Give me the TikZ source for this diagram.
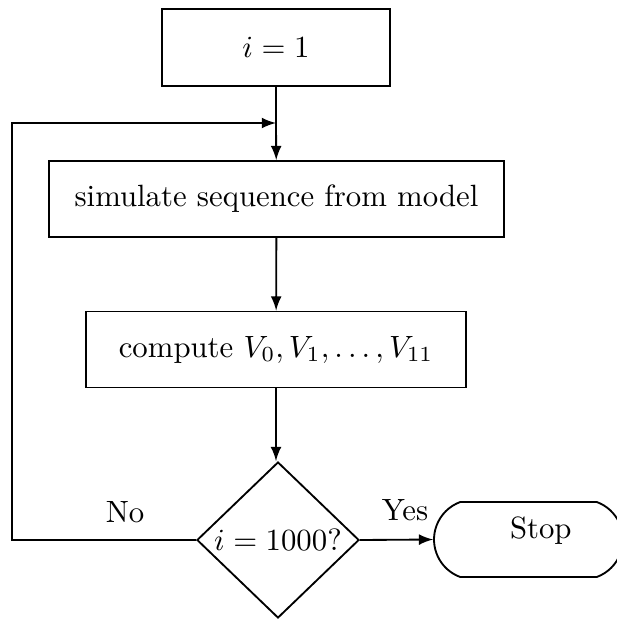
\documentclass[tikz,border=0pt]{standalone}
\usetikzlibrary{shapes.geometric,shapes.misc}

\tikzset{
    block/.style = {draw, rectangle, minimum height=24.7pt, inner sep=0pt},
    test/.style = {draw, diamond, minimum width=52.7pt, minimum height=50.7pt, inner sep=0pt},
    terminal/.style = {draw, rounded rectangle, rounded rectangle arc length=140,
        minimum width=61.4pt, minimum height=24.4pt, inner sep=0pt},
}

\begin{document}
\begin{tikzpicture}[line width=0.6pt]
    \begin{scope}[x=0.325pt,y=-0.325pt]
        \useasboundingbox (0,0) rectangle (617,620);
        \node[block, minimum width=74.1pt, minimum height=25pt] (init) at (276,47.5) {$i=1$};
        \node[block, minimum width=147.9pt] (sim) at (276.5,199) {simulate sequence from model};
        \node[block, minimum width=123.5pt] (comp) at (276,349.5) {compute $V_0,V_1,\ldots,V_{11}$};
        \node[test] (check) at (278,540) {$i=1000?$};
        \node[terminal] (stop) at (528.5,539.5)
            {\hspace*{8pt}\raisebox{3pt}[\height][\depth]{Stop}};
        \coordinate (join) at (276,123);
        \coordinate (back) at (12,540);
        \draw (init) -- (join);
        \draw[-latex] (join) -- (sim);
        \draw[-latex] (sim) -- (comp);
        \draw[-latex] (comp.south) -- (comp.south |- check.north);
        \draw[-latex] (check.east) -- (stop.west);
        \draw[-latex] (check.west) -- (back) |- (join);
        \node (no) at (125,512) {No};
        \node (yes) at (405,510) {Yes};
    \end{scope}
\end{tikzpicture}
\end{document}
